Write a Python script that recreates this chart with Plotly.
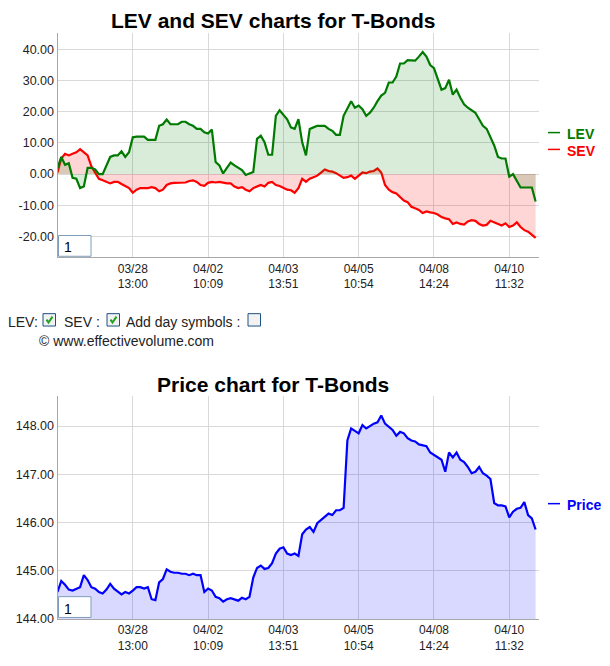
import plotly.graph_objects as go

W, H = 610, 666


def px(x):
    return x / W


def py(y):
    return 1 - y / H


# ---------------- data ----------------
tick_idx = [20, 40, 60, 80, 100, 120]
tick_labels = ["03/28<br>13:00", "04/02<br>10:09", "04/03<br>13:51",
               "04/05<br>10:54", "04/08<br>14:24", "04/10<br>11:32"]

lev_ticks = [-20, -10, 0, 10, 20, 30, 40]
price_ticks = [144, 145, 146, 147, 148]

lev = [2.0, 5.5, 3.0, 3.5, -1.2, -1.5, -4.5, -4.0, 2.0, 2.0,
       1.5, 0.0, 0.0, 3.0, 5.5, 6.0, 6.0, 7.3, 5.5, 7.0,
       11.8, 12.0, 12.0, 12.0, 11.0, 11.0, 11.0, 15.5, 16.0, 17.5,
       16.0, 16.0, 16.0, 16.8, 16.8, 16.0, 15.5, 14.5, 14.5, 13.4,
       13.0, 14.3, 3.9, 2.8, 0.2, 2.0, 3.7, 2.8, 2.0, 1.3,
       -0.3, 0.2, 0.7, 11.3, 12.3, 10.2, 6.2, 6.2, 18.7, 20.5,
       18.9, 17.6, 15.0, 14.5, 17.6, 10.2, 6.0, 14.5, 15.0, 15.5,
       15.5, 15.5, 14.5, 13.9, 12.6, 12.6, 18.7, 21.3, 23.4, 21.3,
       22.0, 20.8, 18.7, 19.7, 21.3, 23.4, 25.2, 26.1, 29.4, 29.4,
       31.3, 35.5, 35.5, 36.6, 36.4, 36.4, 37.7, 39.2, 37.7, 35.0,
       34.0, 30.3, 27.1, 27.6, 30.3, 25.5, 27.1, 24.5, 22.4, 21.3,
       20.5, 19.7, 17.6, 15.5, 14.5, 11.8, 9.2, 5.5, 5.0, 5.0,
       -0.8, 0.0, -2.4, -4.3, -4.3, -4.3, -4.3, -8.8]

sev = [0.5, 5.0, 6.5, 6.0, 6.5, 7.0, 8.0, 7.0, 6.0, 2.5,
       0.5, -1.5, -2.0, -2.5, -3.0, -2.5, -2.5, -3.2, -3.8, -4.5,
       -6.0, -5.0, -4.5, -4.5, -4.5, -4.2, -4.5, -5.5, -5.0, -3.5,
       -3.0, -2.8, -2.8, -2.7, -2.7, -2.2, -2.0, -2.5, -3.5, -3.8,
       -2.8, -2.5, -2.7, -2.5, -2.8, -3.0, -3.0, -4.0, -4.5, -4.2,
       -5.0, -5.5, -4.5, -4.0, -3.5, -4.0, -2.8, -2.5, -3.5, -3.8,
       -4.5, -5.0, -5.2, -6.0, -4.5, -1.5, -2.5, -1.5, -1.0, -0.5,
       0.5, 1.5, 1.0, 0.8, 0.3, -0.5, -1.2, -1.0, -0.5, -1.5,
       -0.5, 0.5, 0.3, 0.8, 1.0, 1.8, 0.5, -3.5, -5.0, -5.8,
       -6.2, -7.5, -8.5, -9.0, -10.5, -11.0, -11.5, -12.5, -12.0, -12.3,
       -12.5, -13.0, -13.8, -14.2, -14.5, -16.0, -15.5, -16.0, -16.2, -15.2,
       -14.8, -15.0, -16.0, -16.5, -16.3, -15.0, -15.5, -16.0, -16.5, -15.8,
       -17.0, -16.5, -15.5, -17.0, -18.0, -18.5, -19.5, -20.5]

price = [144.55, 144.78, 144.70, 144.60, 144.58, 144.62, 144.65, 144.90, 144.80, 144.65,
         144.62, 144.55, 144.52, 144.60, 144.72, 144.62, 144.55, 144.50, 144.55, 144.52,
         144.58, 144.65, 144.65, 144.62, 144.65, 144.40, 144.38, 144.75, 144.82, 145.02,
         144.97, 144.95, 144.95, 144.93, 144.93, 144.90, 144.93, 144.90, 144.90, 144.55,
         144.62, 144.58, 144.45, 144.42, 144.35, 144.40, 144.42, 144.40, 144.37, 144.43,
         144.40, 144.45, 144.85, 145.05, 145.10, 145.03, 145.05, 145.15, 145.35, 145.45,
         145.48, 145.35, 145.32, 145.35, 145.30, 145.75, 145.85, 145.90, 145.80, 145.98,
         146.05, 146.12, 146.18, 146.15, 146.25, 146.25, 146.30, 147.70, 147.95, 147.90,
         147.85, 148.02, 147.95, 148.00, 148.05, 148.08, 148.22, 148.05, 147.98, 147.92,
         147.80, 147.88, 147.85, 147.75, 147.70, 147.68, 147.62, 147.60, 147.58, 147.45,
         147.40, 147.35, 147.30, 147.05, 147.45, 147.35, 147.45, 147.30, 147.25, 147.15,
         147.02, 147.05, 147.15, 147.02, 146.97, 146.90, 146.40, 146.35, 146.35, 146.33,
         146.10, 146.22, 146.28, 146.30, 146.42, 146.15, 146.08, 145.85]

idx = list(range(len(lev)))

# ---------------- styles ----------------
FONT = "Arial, Liberation Sans, sans-serif"
GRID = "#d9d9d9"
AXLINE = "#a8a8a8"
GREEN = "#007a00"
RED = "#ff0000"
BLUE = "#0000ff"

fig = go.Figure()
fig.add_trace(go.Scatter(x=idx, y=sev, mode="lines", name="SEV",
                         line=dict(color=RED, width=2.2),
                         fill="tozeroy", fillcolor="rgba(255,0,0,0.16)",
                         xaxis="x", yaxis="y"))
fig.add_trace(go.Scatter(x=idx, y=lev, mode="lines", name="LEV",
                         line=dict(color=GREEN, width=2.2),
                         fill="tozeroy", fillcolor="rgba(0,128,0,0.15)",
                         xaxis="x", yaxis="y"))
fig.add_trace(go.Scatter(x=idx, y=price, mode="lines", name="Price",
                         line=dict(color=BLUE, width=2.2),
                         fill="tozeroy", fillcolor="rgba(0,0,255,0.15)",
                         xaxis="x2", yaxis="y2"))

xdom = [px(57.5), px(539)]
common_x = dict(range=[0, 127.9], tickvals=tick_idx, ticktext=tick_labels,
                showgrid=True, gridcolor=GRID, gridwidth=1, showline=True,
                linecolor=AXLINE, linewidth=1, zeroline=False, ticks="",
                tickfont=dict(family=FONT, size=12, color="#222"), domain=xdom)
common_y = dict(showgrid=True, gridcolor=GRID, gridwidth=1, showline=True,
                linecolor=AXLINE, linewidth=1, zeroline=False, ticks="",
                tickfont=dict(family=FONT, size=12.5, color="#222"))

fig.update_layout(
    width=W, height=H, margin=dict(l=0, r=0, t=0, b=0),
    paper_bgcolor="white", plot_bgcolor="white", showlegend=False,
    xaxis=dict(anchor="y", **common_x),
    yaxis=dict(anchor="x", domain=[py(260), py(33)], range=[-26.7, 45.4],
               tickvals=lev_ticks, ticktext=["%.2f" % v for v in lev_ticks], **common_y),
    xaxis2=dict(anchor="y2", **common_x),
    yaxis2=dict(anchor="x2", domain=[py(625.5), py(400)], range=[143.99, 148.63],
                tickvals=price_ticks, ticktext=["%.2f" % v for v in price_ticks], **common_y),
)

ann = []
shapes = []


def text(x, y, s, size=13, color="#111", bold=False, xanchor="left"):
    ann.append(dict(x=px(x), y=py(y), xref="paper", yref="paper", text=("<b>%s</b>" % s) if bold else s,
                    showarrow=False, xanchor=xanchor, yanchor="middle",
                    font=dict(family=FONT, size=size, color=color)))


# titles
text(273, 21, "LEV and SEV charts for T-Bonds", size=21, color="#000", bold=True, xanchor="center")
text(273, 388.5, "Price chart for T-Bonds", size=21, color="#000", bold=True, xanchor="center")

# legends
for (ly, label, col) in [(134, "LEV", GREEN), (151, "SEV", RED), (509, "Price", BLUE)]:
    shapes.append(dict(type="line", xref="paper", yref="paper", x0=px(548), x1=px(560),
                       y0=py(ly), y1=py(ly), line=dict(color=col, width=1.5)))
    text(565, ly + 1.5, label, size=14, color=col, bold=True)

# "1" boxes
for (y0, y1) in [(238, 259), (603, 624)]:
    shapes.append(dict(type="rect", xref="paper", yref="paper", x0=px(58.5), x1=px(91),
                       y0=py(y1), y1=py(y0), line=dict(color="#7f9db9", width=1), fillcolor="white"))
    text(62, (y0 + y1) / 2 + 1.5, "1", size=14, color="#000")

# controls row
text(6, 325, "LEV:", size=14, color="#222")
text(62, 325, "SEV :", size=14, color="#222")
text(124, 325, "Add day symbols :", size=14, color="#222")
for (bx, checked) in [(43, True), (107, True), (248, False)]:
    shapes.append(dict(type="rect", xref="paper", yref="paper", x0=px(bx), x1=px(bx + 12.5),
                       y0=py(329.5), y1=py(317), line=dict(color="#1c5180", width=1), fillcolor="#f2f2f2"))
    if checked:
        path = "M %f,%f L %f,%f L %f,%f" % (px(bx + 3.5), py(323), px(bx + 5.5), py(326),
                                            px(bx + 9.5), py(320))
        shapes.append(dict(type="path", xref="paper", yref="paper", path=path,
                           line=dict(color="#21a121", width=2)))

text(37, 345, "© www.effectivevolume.com", size=14, color="#222")

fig.update_layout(annotations=ann, shapes=shapes)

fig.write_html("out.html", config={"displayModeBar": False},
               post_script="document.body.style.margin='0px';document.body.style.padding='0px';")
